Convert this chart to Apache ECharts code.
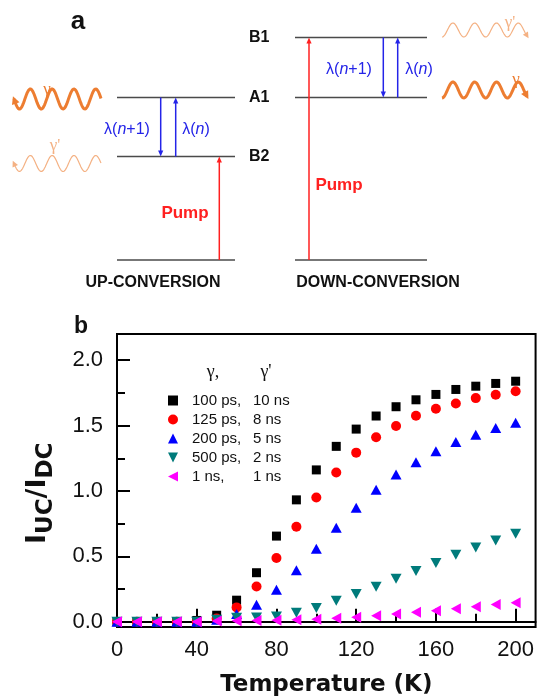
<!DOCTYPE html>
<html>
<head>
<meta charset="utf-8">
<script src="https://cdn.jsdelivr.net/npm/echarts@6.0.0/dist/echarts.min.js"></script>
<style>
  html, body { margin: 0; padding: 0; background: #fff; }
  #main { width: 537px; height: 699px; }
</style>
</head>
<body>
<div id="main"></div>
<script>
// data
var temps = [0, 10, 20, 30, 40, 50, 60, 70, 80, 90, 100, 110, 120, 130, 140, 150, 160, 170, 180, 190, 200];
var ratio100ps = [0, 0, 0, 0, 0.01, 0.05, 0.165, 0.375, 0.655, 0.932, 1.161, 1.341, 1.473, 1.573, 1.644, 1.697, 1.738, 1.776, 1.801, 1.822, 1.839];
var ratio125ps = [0, 0, 0, 0, 0, 0.025, 0.11, 0.27, 0.488, 0.727, 0.95, 1.141, 1.293, 1.41, 1.496, 1.575, 1.629, 1.669, 1.71, 1.735, 1.763];
var ratio200ps = [0, 0, 0, 0, 0, 0.015, 0.06, 0.13, 0.245, 0.394, 0.559, 0.719, 0.871, 1.009, 1.125, 1.22, 1.303, 1.374, 1.43, 1.481, 1.522];
var ratio500ps = [0, 0, 0, 0, 0, 0.015, 0.03, 0.032, 0.04, 0.068, 0.105, 0.16, 0.213, 0.267, 0.328, 0.389, 0.45, 0.513, 0.567, 0.622, 0.673];
var ratio1ns = [0, 0, 0, 0, 0, 0.005, 0.008, 0.01, 0.012, 0.015, 0.02, 0.027, 0.035, 0.046, 0.059, 0.072, 0.084, 0.1, 0.114, 0.132, 0.145];

var gammaLabels = ['100 ps,', '125 ps,', '200 ps,', '500 ps,', '1 ns,'];
var gammaPrimeLabels = ['10 ns', '8 ns', '5 ns', '2 ns', '1 ns'];

var xMajorTicks = [0, 40, 80, 120, 160, 200];
var xMinorTicks = [20, 60, 100, 140, 180];
var yMajorTicks = [0, 0.5, 1.0, 1.5, 2.0];
var yMinorTicks = [0.25, 0.75, 1.25, 1.75];

var FONT = "'Liberation Sans', Arial, sans-serif";
var ORANGE = '#ed7d31', LIGHT_ORANGE = '#f4b183', BLUE = '#2424e8', RED = '#ff2020', LEVEL = '#4a4a4a';

var myChart = echarts.init(document.getElementById('main'));

function pairs(ys) {
    return temps.map(function (t, i) { return [t, ys[i]]; });
}

// ---------- helpers for the level diagram (panel a) ----------
function txt(x, y, text, size, color, opt) {
    opt = opt || {};
    return {
        type: 'text', x: x, y: y, z: 20,
        style: {
            text: text, fill: color, fontSize: size,
            fontFamily: opt.family || FONT, fontWeight: opt.weight || 'normal',
            align: opt.align || 'center', verticalAlign: opt.valign || 'middle',
            rich: opt.rich
        }
    };
}
function hline(x1, x2, y) {
    return { type: 'line', z: 10, shape: { x1: x1, y1: y, x2: x2, y2: y }, style: { stroke: LEVEL, lineWidth: 1.5 } };
}
function head(tx, ty, dx, dy, len, half, color) {
    var bx = tx - dx * len, by = ty - dy * len;
    return {
        type: 'polygon', z: 11,
        shape: { points: [[tx, ty], [bx - dy * half, by + dx * half], [bx + dy * half, by - dx * half]] },
        style: { fill: color }
    };
}
function vArrow(x, yFrom, yTo, color) {
    var d = yTo > yFrom ? 1 : -1;
    return [
        { type: 'line', z: 10, shape: { x1: x, y1: yFrom, x2: x, y2: yTo - d * 4 }, style: { stroke: color, lineWidth: 1.5 } },
        head(x, yTo, 0, d, 6, 2.6, color)
    ];
}
function wave(x0, len, yc, amp, phase, lw, color, arrowAtStart) {
    var P = 21.8, pts = [];
    for (var i = 0; i <= 120; i++) {
        var x = x0 + len * i / 120;
        pts.push([x, yc + amp * Math.sin(2 * Math.PI * (x - x0) / P + phase)]);
    }
    var a = arrowAtStart ? pts[0] : pts[pts.length - 1];
    var b = arrowAtStart ? pts[3] : pts[pts.length - 4];
    var dx = a[0] - b[0], dy = a[1] - b[1], n = Math.sqrt(dx * dx + dy * dy);
    dx /= n; dy /= n;
    var hl = lw > 2 ? 8 : 6, hw = lw > 2 ? 4 : 3;
    return [
        { type: 'polyline', z: 10, shape: { points: pts }, style: { stroke: color, lineWidth: lw, fill: null } },
        head(a[0] + dx * 3, a[1] + dy * 3, dx, dy, hl, hw, color)
    ];
}
function lambda(x, y, withPlus) {
    var rich = {
        r: { fill: BLUE, fontSize: 16, fontFamily: FONT },
        i: { fill: BLUE, fontSize: 16, fontFamily: FONT, fontStyle: 'italic' }
    };
    return txt(x, y, withPlus ? '{r|λ(}{i|n}{r|+1)}' : '{r|λ(}{i|n}{r|)}', 16, BLUE, { rich: rich });
}

var diagram = [];
// panel labels
diagram.push(txt(78, 22, 'a', 26, '#111', { weight: 'bold' }));
diagram.push(txt(81, 327, 'b', 23, '#111', { weight: 'bold' }));
// up-conversion levels
diagram.push(hline(117, 235, 97.5), hline(117, 235, 156.5), hline(117, 235, 260));
// down-conversion levels
diagram.push(hline(295, 427, 37.5), hline(295, 427, 97.5), hline(295, 427, 260));
// level names
diagram.push(txt(249, 38, 'B1', 16, '#111', { weight: 'bold', align: 'left' }));
diagram.push(txt(249, 98, 'A1', 16, '#111', { weight: 'bold', align: 'left' }));
diagram.push(txt(249, 157, 'B2', 16, '#111', { weight: 'bold', align: 'left' }));
// transitions
diagram = diagram.concat(vArrow(160.7, 97.5, 156.5, BLUE), vArrow(175.7, 156.5, 97.5, BLUE));
diagram = diagram.concat(vArrow(219.3, 260, 156.5, RED));
diagram = diagram.concat(vArrow(309, 260, 37.5, RED));
diagram = diagram.concat(vArrow(383.3, 37.5, 97.5, BLUE), vArrow(397.7, 97.5, 37.5, BLUE));
diagram.push(lambda(127, 130, true), lambda(196, 130, false));
diagram.push(lambda(349, 70, true), lambda(419, 70, false));
diagram.push(txt(185, 213, 'Pump', 17, RED, { weight: 'bold' }));
diagram.push(txt(339, 185, 'Pump', 17, RED, { weight: 'bold' }));
diagram.push(txt(153, 283, 'UP-CONVERSION', 16, '#111', { weight: 'bold' }));
diagram.push(txt(378, 283, 'DOWN-CONVERSION', 16, '#111', { weight: 'bold' }));
// photons
diagram = diagram.concat(wave(14, 87, 99, 10, 0, 3, ORANGE, true));
diagram = diagram.concat(wave(14, 87, 163.5, 8, 0, 1.2, LIGHT_ORANGE, true));
diagram = diagram.concat(wave(442, 85, 30, 7, Math.PI / 2, 1.2, LIGHT_ORANGE, false));
diagram = diagram.concat(wave(442, 85, 90, 8, Math.PI / 2, 3, ORANGE, false));
diagram.push(txt(47, 90, 'γ', 17, ORANGE, { family: "'Liberation Serif', serif" }));
diagram.push(txt(55, 146, "γ'", 17, LIGHT_ORANGE, { family: "'Liberation Serif', serif" }));
diagram.push(txt(510, 23, "γ'", 17, LIGHT_ORANGE, { family: "'Liberation Serif', serif" }));
diagram.push(txt(516, 80, 'γ', 17, ORANGE, { family: "'Liberation Serif', serif" }));

// legend header
diagram.push(txt(213, 372, 'γ,', 18, '#111', { family: "'Liberation Serif', serif" }));
diagram.push(txt(266, 372, "γ'", 18, '#111', { family: "'Liberation Serif', serif" }));

// y axis title I_UC / I_DC, built from pieces so the subscripts can drop
var ctx = document.createElement('canvas').getContext('2d');
var yTitleParts = [['I', 27, 0], ['UC', 23, 1], ['/I', 27, 0], ['DC', 23, 1]];
var yTitle = [], cursor = 0;
yTitleParts.forEach(function (p) {
    ctx.font = 'bold ' + p[1] + "px 'DejaVu Sans'";
    yTitle.push({
        type: 'text', x: cursor, y: p[2] ? 8 : 0,
        style: { text: p[0], fill: '#111', fontSize: p[1], fontWeight: 'bold', fontFamily: "'DejaVu Sans', sans-serif", align: 'left', verticalAlign: 'middle' }
    });
    cursor += ctx.measureText(p[0]).width;
});
diagram.push({ type: 'group', x: 38, y: 544, rotation: Math.PI / 2, children: yTitle });

var seriesNames = gammaLabels.map(function (g, i) { return g + ' ' + gammaPrimeLabels[i]; });
var symbolRotations = [0, 0, 0, 180, 90];
// legend icons: the legend does not pick up the rotation, so give it the shapes directly
var legendIcons = ['rect', 'circle', 'triangle', 'path://M0,0L10,0L5,10Z', 'path://M10,0L10,10L0,5Z'];

function scatter(i, ys, symbol, size, color) {
    return {
        name: seriesNames[i], type: 'scatter', data: pairs(ys),
        symbol: symbol, symbolSize: size, symbolRotate: symbolRotations[i],
        itemStyle: { color: color, opacity: 1 }
    };
}

var option = {
    animation: false,
    backgroundColor: '#fff',
    grid: { left: 117, top: 334, right: 1, bottom: 72, show: true, borderColor: '#000', borderWidth: 2 },
    legend: {
        orient: 'vertical', left: 163, top: 388,
        itemWidth: 10, itemHeight: 10, itemGap: 4,
        data: seriesNames.map(function (n, i) { return { name: n, icon: legendIcons[i] }; }),
        formatter: function (name) {
            var i = seriesNames.indexOf(name);
            return '{p| }{a|' + gammaLabels[i] + '}{b|' + gammaPrimeLabels[i] + '}';
        },
        textStyle: {
            rich: {
                p: { width: 9, fontSize: 15, lineHeight: 15 },
                a: { width: 61, fontSize: 15, lineHeight: 15, fontFamily: FONT, color: '#111' },
                b: { fontSize: 15, lineHeight: 15, fontFamily: FONT, color: '#111' }
            }
        }
    },
    xAxis: [{
        type: 'value', min: 0, max: 210, position: 'bottom',
        axisLine: { lineStyle: { color: '#000', width: 2 } },
        axisTick: { inside: true, length: 13, customValues: xMajorTicks, lineStyle: { color: '#000', width: 2 } },
        axisLabel: { customValues: xMajorTicks, margin: 12, fontSize: 22, fontFamily: FONT, color: '#111' },
        splitLine: { show: false },
        name: 'Temperature (K)', nameLocation: 'middle', nameGap: 47,
        nameTextStyle: { fontSize: 23, fontWeight: 'bold', fontFamily: "'DejaVu Sans', sans-serif", color: '#111' }
    }, {
        type: 'value', min: 0, max: 210, position: 'bottom',
        axisLine: { show: false },
        axisTick: { inside: true, length: 8, customValues: xMinorTicks, lineStyle: { color: '#000', width: 2 } },
        axisLabel: { show: false },
        splitLine: { show: false }
    }],
    yAxis: [{
        type: 'value', min: -0.04, max: 2.2, position: 'left',
        axisLine: { show: true, lineStyle: { color: '#000', width: 2 } },
        axisTick: { show: true, inside: true, length: 13, customValues: yMajorTicks, lineStyle: { color: '#000', width: 2 } },
        axisLabel: {
            customValues: yMajorTicks, margin: 14, fontSize: 22, fontFamily: FONT, color: '#111',
            formatter: function (v) { return v.toFixed(1); }
        },
        splitLine: { show: false }
    }, {
        type: 'value', min: -0.04, max: 2.2, position: 'left',
        axisLine: { show: false },
        axisTick: { show: true, inside: true, length: 8, customValues: yMinorTicks, lineStyle: { color: '#000', width: 2 } },
        axisLabel: { show: false },
        splitLine: { show: false }
    }],
    graphic: { elements: diagram },
    series: [
        scatter(0, ratio100ps, 'rect', 9, '#000000'),
        scatter(1, ratio125ps, 'circle', 10, '#ff0000'),
        scatter(2, ratio200ps, 'triangle', [11, 10], '#0000ff'),
        scatter(3, ratio500ps, 'triangle', [11, 10], '#007b7b'),
        scatter(4, ratio1ns, 'triangle', [11, 10], '#ff00ff')
    ]
};

myChart.setOption(option);
</script>
</body>
</html>
